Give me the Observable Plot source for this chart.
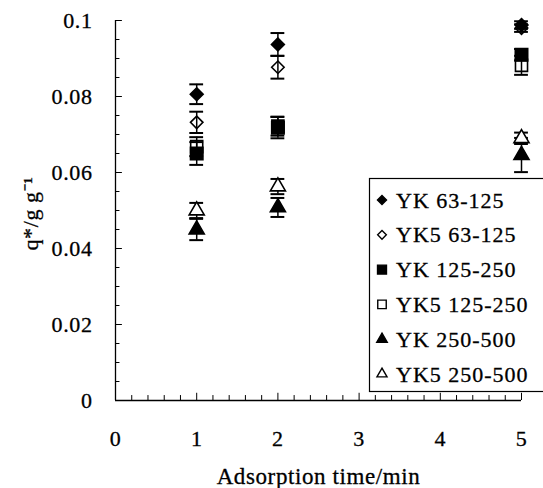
<!DOCTYPE html>
<html><head><meta charset="utf-8">
<script src="https://cdn.jsdelivr.net/npm/d3@7"></script>
<script src="https://cdn.jsdelivr.net/npm/@observablehq/plot@0.6"></script>
<style>
html,body{margin:0;padding:0;background:#fff;}
#wrap{position:relative;width:543px;height:488px;overflow:hidden;background:#fff;}
#legend{position:absolute;left:0;top:0;pointer-events:none;}
#wrap svg text{stroke:black;stroke-width:0.3px;}
</style></head><body><div id="wrap"></div>
<script>
// ---- data ----
const times = [1, 2, 5];
const seriesNames = ["YK 63-125", "YK5 63-125", "YK 125-250", "YK5 125-250", "YK 250-500", "YK5 250-500"];
const q_YK_63   = [0.0806, 0.0937, 0.0988];
const e_YK_63   = [0.0026, 0.0030, 0.0010];
const q_YK5_63  = [0.0732, 0.0877, 0.0980];
const e_YK5_63  = [0.0028, 0.0030, 0.0010];
const q_YK_125  = [0.0650, 0.0718, 0.0910];
const e_YK_125  = [0.0030, 0.0028, 0.0015];
const q_YK5_125 = [0.0668, 0.0722, 0.0882];
const e_YK5_125 = [0.0025, 0.0025, 0.0025];
const q_YK_250  = [0.0450, 0.0508, 0.0646];
const e_YK_250  = [0.0028, 0.0025, 0.0045];
const q_YK5_250 = [0.0500, 0.0563, 0.0690];
const e_YK5_250 = [0.0020, 0.0020, 0.0015];
const xTicks = [0, 1, 2, 3, 4, 5];
const xTickLabels = ["0", "1", "2", "3", "4", "5"];
const yTicks = [0, 0.02, 0.04, 0.06, 0.08, 0.1];
const yTickLabels = ["0", "0.02", "0.04", "0.06", "0.08", "0.1"];
const xLabel = "Adsorption time/min";
const yLabel = "q*/g g\u207B\u00B9";

// ---- build table ----
const qs = [q_YK_63, q_YK5_63, q_YK_125, q_YK5_125, q_YK_250, q_YK5_250];
const es = [e_YK_63, e_YK5_63, e_YK_125, e_YK5_125, e_YK_250, e_YK5_250];
const rows = [];
seriesNames.forEach((s, i) => times.forEach((t, j) => rows.push({series: s, time: t, q: qs[i][j], err: es[i][j]})));

const styles = {
  "YK 63-125":   {symbol: "diamond2", fill: "black", r: 5.8, lsize: 52},
  "YK5 63-125":  {symbol: "diamond2", fill: "none",  r: 5.6, lsize: 48},
  "YK 125-250":  {symbol: "square",   fill: "black", r: 7.0, lsize: 80},
  "YK5 125-250": {symbol: "square",   fill: "none",  r: 6.8, lsize: 72},
  "YK 250-500":  {symbol: "triangle", fill: "black", r: 5.6, lsize: 48},
  "YK5 250-500": {symbol: "triangle", fill: "white", r: 5.6, lsize: 44}
};

const xMinor = d3.range(26).map(i => i / 5);
const yMinor = d3.range(21).map(i => i * 0.005);
const font = "'Liberation Serif', 'Times New Roman', serif";
const capHalf = 0.085;

const marks = [
  Plot.ruleX([0], {y1: 0, y2: 0.1, stroke: "black", strokeWidth: 1.3}),
  Plot.ruleY([0], {x1: 0, x2: 5, stroke: "black", strokeWidth: 1.3}),
  Plot.ruleY(yMinor, {y: d => d, x1: 0, x2: d => (Math.round(d * 1000) % 20 === 0 ? 0.085 : 0.055), stroke: "black", strokeWidth: 1}),
  Plot.ruleX(xMinor, {x: d => d, y1: 0, y2: d => (Math.abs(d - Math.round(d)) < 1e-9 ? 0.0019 : 0.0013), stroke: "black", strokeWidth: 1}),
  Plot.axisX({ticks: xTicks, tickFormat: (d, i) => xTickLabels[i], tickSize: 0, tickPadding: 30, fontSize: 22, label: null}),
  Plot.axisY({ticks: yTicks, tickFormat: (d, i) => yTickLabels[i], tickSize: 0, tickPadding: 23, fontSize: 22, label: null}),
  Plot.ruleX(rows, {x: "time", y1: d => d.q - d.err, y2: d => d.q + d.err, stroke: "black", strokeWidth: 1.5}),
  Plot.ruleY(rows, {y: d => d.q + d.err, x1: d => d.time - capHalf, x2: d => d.time + capHalf, stroke: "black", strokeWidth: 2}),
  Plot.ruleY(rows, {y: d => d.q - d.err, x1: d => d.time - capHalf, x2: d => d.time + capHalf, stroke: "black", strokeWidth: 2}),
  ...seriesNames.map(s => Plot.dot(rows.filter(d => d.series === s), {
    x: "time", y: "q", symbol: styles[s].symbol, r: styles[s].r,
    fill: styles[s].fill, stroke: "black", strokeWidth: 1.6
  })),
  Plot.text([xLabel], {frameAnchor: "bottom", dy: 76, text: d => d, fontSize: 23, lineAnchor: "middle", textAnchor: "middle"}),
  Plot.text([yLabel], {frameAnchor: "left", dx: -85, dy: 3, rotate: -90, text: d => d, fontSize: 22, lineAnchor: "middle", textAnchor: "middle"})
];

const chart = Plot.plot({
  width: 543, height: 488,
  marginLeft: 115, marginRight: 22, marginTop: 20, marginBottom: 88,
  x: {domain: [0, 5]},
  y: {domain: [0, 0.1]},
  style: {fontFamily: font, color: "black", background: "white", letterSpacing: "0.6px"},
  marks
});
document.getElementById("wrap").appendChild(chart);

// ---- legend (inside plot area, drawn over it) ----
const leg = d3.select("#wrap").append("svg").attr("id", "legend").attr("width", 543).attr("height", 488);
leg.append("rect").attr("x", 369.5).attr("y", 178.5).attr("width", 200).attr("height", 213)
  .attr("fill", "white").attr("stroke", "black").attr("stroke-width", 1.2);
const symMap = {diamond2: d3.symbolDiamond2, square: d3.symbolSquare, triangle: d3.symbolTriangle};
seriesNames.forEach((s, i) => {
  const cy = 200 + i * 34.8;
  const st = styles[s];
  leg.append("path").attr("d", d3.symbol(symMap[st.symbol], st.lsize)())
    .attr("transform", `translate(382,${cy})`)
    .attr("fill", st.fill === "none" ? "white" : st.fill).attr("stroke", "black").attr("stroke-width", 1.4);
  leg.append("text").attr("x", 396).attr("y", cy + 7.5).text(s)
    .attr("font-family", font).attr("font-size", 22).attr("letter-spacing", "1px").attr("fill", "black");
});
</script></body></html>
